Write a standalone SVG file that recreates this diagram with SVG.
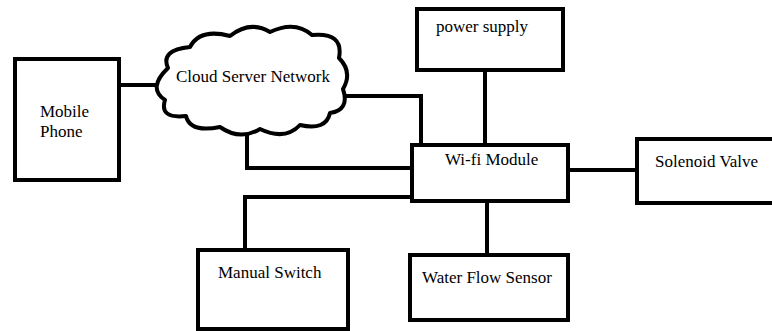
<svg xmlns="http://www.w3.org/2000/svg" width="772" height="331" viewBox="0 0 772 331">
  <style>
    .box { fill: #fff; stroke: #000; stroke-width: 4; }
    .cloud { fill: #fff; stroke: #000; stroke-width: 4; stroke-linejoin: round; }
    .wire { fill: none; stroke: #000; stroke-width: 4; stroke-linejoin: miter; }
    .lbl { font-family: "Liberation Serif", "Times New Roman", serif; font-size: 17px; fill: #000; }
  </style>
  <rect width="772" height="331" fill="#fff"/>

  <!-- connectors -->
  <g id="connectors">
    <path class="wire" d="M119,85 H160"/>
    <path class="wire" d="M338,96 H421 V145"/>
    <path class="wire" d="M247,128 V168 H412"/>
    <path class="wire" d="M485,70 V145"/>
    <path class="wire" d="M568,170 H637"/>
    <path class="wire" d="M412,197 H245 V250"/>
    <path class="wire" d="M487,201 V255"/>
  </g>

  <g id="mobile-phone">
    <rect class="box" x="15" y="59" width="104" height="121"/>
    <text class="lbl" x="40" y="117" font-size="18">Mobile</text>
    <text class="lbl" x="40" y="137" font-size="18">Phone</text>
  </g>

  <g id="cloud-server">
    <path class="cloud" d="M168,68 Q160,50 190,47 Q200,28 230,36 Q250,20 270,32 Q295,20 312,35 Q344,32 339,58 Q353,72 343,89 Q350,110 330,113 Q326,131 300,125 Q285,141 260,129 Q240,141 220,127 Q190,133 186,116 Q159,119 165,100 Q147,88 168,68 Z"/>
    <text class="lbl" x="176" y="82">Cloud Server Network</text>
  </g>

  <g id="power-supply">
    <rect class="box" x="417" y="9" width="146" height="61"/>
    <text class="lbl" x="436" y="32">power supply</text>
  </g>

  <g id="wifi-module">
    <rect class="box" x="412" y="145" width="156" height="56"/>
    <text class="lbl" x="445" y="165" font-size="16.5">Wi-fi Module</text>
  </g>

  <g id="solenoid-valve">
    <rect class="box" x="637" y="139" width="140" height="64"/>
    <text class="lbl" x="655" y="167" font-size="17.5">Solenoid Valve</text>
  </g>

  <g id="manual-switch">
    <rect class="box" x="198" y="250" width="150" height="79"/>
    <text class="lbl" x="218" y="278" font-size="16.5">Manual Switch</text>
  </g>

  <g id="water-flow-sensor">
    <rect class="box" x="410" y="255" width="158" height="65"/>
    <text class="lbl" x="422" y="283">Water Flow Sensor</text>
  </g>
</svg>
